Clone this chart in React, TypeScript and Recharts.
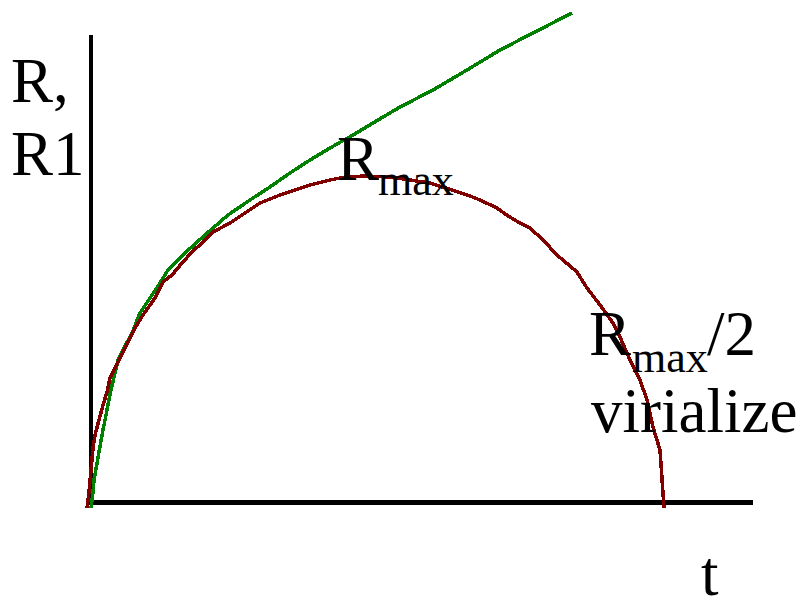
import React from "react";
import { LineChart, Line, XAxis, YAxis } from "recharts";

// t runs 0..700 across the plot, R runs 0..500 up the plot
const greenT = [11, 13, 14, 19, 23, 27, 31, 35, 38, 43, 52, 60, 72, 80, 88, 105, 125, 148, 170, 190, 210, 230, 250, 273, 293, 320, 353, 387, 420, 453, 492];
const greenR = [0, 16, 28, 56, 78, 98, 118, 135, 148, 158, 175, 195, 213, 225, 238, 255, 273, 293, 308, 321, 335, 348, 360, 373, 385, 401, 418, 438, 458, 475, 495];

const redT = [7, 9, 11, 13, 15, 19, 23, 27, 30, 45, 55, 63, 75, 83, 92, 102, 112, 122, 133, 150, 162, 180, 200, 230, 250, 265, 285, 310, 350, 378, 390, 400, 417, 428, 440, 450, 463, 477, 497, 507, 520, 533, 540, 550, 560, 567, 573, 580, 583, 584];
const redR = [0, 16, 38, 60, 73, 88, 103, 116, 130, 160, 180, 193, 210, 226, 233, 245, 256, 265, 276, 285, 293, 305, 313, 323, 328, 331, 332, 331, 325, 316, 312, 308, 300, 292, 285, 280, 268, 253, 236, 220, 203, 185, 171, 148, 128, 108, 81, 58, 15, 0];

// axis strokes
const yAxisT = [11, 11];
const yAxisR = [3, 473];
const xAxisT = [9, 673];
const xAxisR = [5.5, 5.5];

const zip = (ts: number[], rs: number[]) => ts.map((t, i) => ({ t, R: rs[i] }));

const serif = '"Liberation Serif", "Times New Roman", Times, Tinos, "DejaVu Serif", "Noto Serif", FreeSerif, serif';

export default function App() {
  return (
    <div style={{ position: "absolute", left: 0, top: 0, width: 803, height: 601, background: "#fff" }}>
      <LineChart width={803} height={601} margin={{ top: 8, right: 23, bottom: 93, left: 80 }}>
        <XAxis type="number" dataKey="t" domain={[0, 700]} hide />
        <YAxis type="number" dataKey="R" domain={[0, 500]} hide />
        <Line data={zip(yAxisT, yAxisR)} dataKey="R" stroke="#000" strokeWidth={4} dot={false} isAnimationActive={false} shapeRendering="crispEdges" />
        <Line data={zip(xAxisT, xAxisR)} dataKey="R" stroke="#000" strokeWidth={5} dot={false} isAnimationActive={false} shapeRendering="crispEdges" />
        <Line data={zip(greenT, greenR)} dataKey="R" stroke="#008000" strokeWidth={3.5} dot={false} isAnimationActive={false} shapeRendering="crispEdges" />
        <Line data={zip(redT, redR)} dataKey="R" stroke="#800000" strokeWidth={3.5} dot={false} isAnimationActive={false} shapeRendering="crispEdges" />
      </LineChart>
      <svg
        width={803}
        height={601}
        style={{ position: "absolute", left: 0, top: 0, pointerEvents: "none", fontFamily: serif, fontSize: 63 }}
      >
        <g fill="#000">
          <text x={11} y={102}>R,</text>
          <text x={11} y={175}>R1</text>
          <text x={337} y={180}>R</text>
          <text x={378} y={195} fontSize={44}>max</text>
          <text x={589} y={355}>R</text>
          <text x={632} y={372} fontSize={44}>max</text>
          <text x={707} y={355}>/2</text>
          <text x={591} y={432}>virialize</text>
          <text x={701} y={595}>t</text>
        </g>
      </svg>
    </div>
  );
}
